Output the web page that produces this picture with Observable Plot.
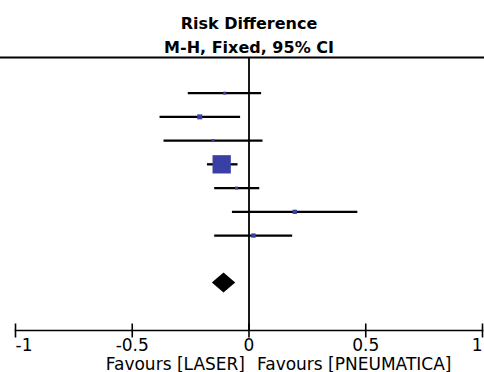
<!DOCTYPE html>
<html><head><meta charset="utf-8">
<script src="https://cdn.jsdelivr.net/npm/d3@7"></script>
<script src="https://cdn.jsdelivr.net/npm/@observablehq/plot@0.6"></script>
<style>html,body{margin:0;padding:0;background:#fff;overflow:hidden}svg{display:block}</style>
</head><body><div id="chart"></div>
<script>
// ---- data ----
const studies = ["Study 1", "Study 2", "Study 3", "Study 4", "Study 5", "Study 6", "Study 7"];
const riskDiff = [-0.104, -0.211, -0.154, -0.117, -0.053, 0.196, 0.019];
const ciLower  = [-0.260, -0.381, -0.364, -0.178, -0.147, -0.071, -0.147];
const ciUpper  = [0.054, -0.036, 0.060, -0.047, 0.046, 0.466, 0.187];
const weights  = [2.1, 5.9, 2.1, 79.0, 2.1, 4.4, 4.4];
const pooledEstimate = -0.107, pooledLower = -0.157, pooledUpper = -0.057;
const tickValues = [-1, -0.5, 0, 0.5, 1];
const tickLabels = ["-1", "-0.5", "0", "0.5", "1"];
const titleLines = ["Risk Difference", "M-H, Fixed, 95% CI"];
const favoursLeft = "Favours [LASER]";
const favoursRight = "Favours [PNEUMATICA]";

// ---- derived tables ----
const rows = studies.map((s, i) => ({study: s, row: i + 1, rd: riskDiff[i], lo: ciLower[i], hi: ciUpper[i], w: weights[i]}));
const pooledRow = studies.length + 2;
const dh = 0.42;
const diamond = [
  {x: pooledLower, y1: pooledRow, y2: pooledRow},
  {x: pooledEstimate, y1: pooledRow - dh, y2: pooledRow + dh},
  {x: pooledUpper, y1: pooledRow, y2: pooledRow}
];
const ticks = tickValues.map((v, i) => ({v, label: tickLabels[i], i}));
const tickSymbol = {draw(ctx) { ctx.moveTo(0, -7); ctx.lineTo(0, 7); }};
const blue = "#3a3fa6";

const chart = Plot.plot({
  width: 484, height: 372,
  marginLeft: 15, marginRight: 2, marginTop: 57, marginBottom: 42,
  style: {fontFamily: "DejaVu Sans", fontSize: "14px", background: "#fff", color: "#000"},
  x: {domain: [-1, 1], axis: null},
  y: {domain: [-0.5, 11], reverse: true, axis: null},
  r: {type: "sqrt", domain: [0, 79], range: [0, 10.33]},
  marks: [
    Plot.frame({anchor: "top", insetLeft: -15, insetRight: -2, strokeWidth: 2}),
    Plot.frame({anchor: "bottom", strokeWidth: 1.6}),
    Plot.ruleX([0], {strokeWidth: 1.8}),
    Plot.ruleY(rows, {y: "row", x1: "lo", x2: "hi", strokeWidth: 2.3, stroke: "#000"}),
    Plot.dot(rows, {x: "rd", y: "row", r: "w", symbol: "square", fill: blue, stroke: "none"}),
    Plot.areaY(diamond, {x: "x", y1: "y1", y2: "y2", fill: "#000"}),
    Plot.dot(ticks, {x: "v", frameAnchor: "bottom", symbol: tickSymbol, fill: "none", stroke: "#000", strokeWidth: 1.6}),
    Plot.text(ticks, {filter: d => d.i === 0, x: "v", text: "label", frameAnchor: "bottom", dy: 20, textAnchor: "start", lineAnchor: "bottom", fontSize: 17}),
    Plot.text(ticks, {filter: d => d.i > 0 && d.i < ticks.length - 1, x: "v", text: "label", frameAnchor: "bottom", dy: 20, textAnchor: "middle", lineAnchor: "bottom", fontSize: 17}),
    Plot.text(ticks, {filter: d => d.i === ticks.length - 1, x: "v", text: "label", frameAnchor: "bottom", dy: 20, textAnchor: "end", lineAnchor: "bottom", fontSize: 17}),
    Plot.text([favoursLeft], {x: 0, text: d => d, frameAnchor: "bottom", dx: -4, dy: 39, textAnchor: "end", lineAnchor: "bottom", fontSize: 17}),
    Plot.text([favoursRight], {x: 0, text: d => d, frameAnchor: "bottom", dx: 8, dy: 39, textAnchor: "start", lineAnchor: "bottom", fontSize: 17}),
    Plot.text([titleLines[0]], {x: 0, text: d => d, frameAnchor: "top", dy: -29, lineAnchor: "bottom", fontWeight: "bold", fontSize: 16}),
    Plot.text([titleLines[1]], {x: 0, text: d => d, frameAnchor: "top", dy: -5, lineAnchor: "bottom", fontWeight: "bold", fontSize: 16})
  ]
});
document.getElementById("chart").appendChild(chart);
</script>
</body></html>
